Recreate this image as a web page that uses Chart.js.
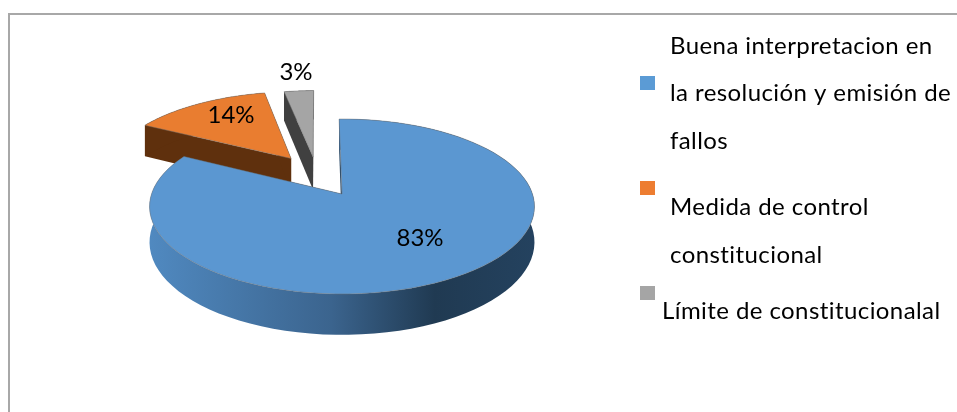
<!DOCTYPE html>
<html>
<head>
<meta charset="utf-8">
<title>Pie</title>
<script src="https://cdn.jsdelivr.net/npm/chart.js@4"></script>
<style>
    html, body { margin: 0; padding: 0; background: #fff; overflow: hidden; }
    #wrap { position: relative; width: 957px; height: 412px; }
    /* the chart frame is cut off by the page on the right and at the bottom */
    #frame { position: absolute; left: 8px; top: 13px; width: 980px; height: 440px; border: 2px solid #a8a8a8; }
    canvas { position: absolute; left: 0; top: 0; }
</style>
</head>
<body>
<div id="wrap">
    <div id="frame"></div>
    <canvas id="myChart" width="957" height="412"></canvas>
</div>
<script>
// chart data
const categories = [
    ["Buena interpretacion en", "la resolución y emisión de", "fallos"],
    ["Medida de control", "constitucional"],
    ["Límite de constitucionalal"]
];
const values = [83, 14, 3];
const percentLabels = ["83%", "14%", "3%"];

// colours, top face / side face
const topColors = ["#5b97d1", "#e97d30", "#a5a5a5"];
const sideColors = ["#2a4a68", "#5f300d", "#404040"];
const legendColors = ["#5b9bd5", "#ed7d31", "#a5a5a5"];

// how the tilted pie is projected on the canvas
const view = { cx: 342, cy: 194, rx: 190.5, ry: 85.7, persp: 0.143, depth: 35 };
// pulled out slices, in pie radii
const explode = [[0, 0], [-0.284, -0.44], [-0.162, -0.46]];

// where the texts go
const percentPos = [[420, 238], [231, 115], [296, 72]];
const legendPos = [
    { box: 76, x: 670, lines: [46, 93, 141] },
    { box: 181, x: 670, lines: [207, 255] },
    { box: 286, x: 662, lines: [311] }
];
const FONT = "Lato, Carlito, 'Open Sans', sans-serif";

function project(u, v) {
    var w = 1 - view.persp * v;
    return { x: view.cx + view.rx * u / w, y: view.cy + view.ry * v / w, d: view.depth / w };
}

// the rim of a slice, from its start angle to its end angle
function rim(arc, i) {
    var pts = [];
    var off = explode[i];
    var steps = 90;
    for (var s = 0; s <= steps; s++) {
        var a = arc.startAngle + (arc.endAngle - arc.startAngle) * s / steps;
        pts.push(project(off[0] + Math.cos(a), off[1] + Math.sin(a)));
    }
    return pts;
}

function fillPoly(ctx, pts, fill) {
    ctx.beginPath();
    pts.forEach(function (p, k) {
        if (k == 0) ctx.moveTo(p[0], p[1]);
        else ctx.lineTo(p[0], p[1]);
    });
    ctx.closePath();
    ctx.fillStyle = fill;
    ctx.fill();
}

function drawSlice(ctx, arc, i) {
    var pts = rim(arc, i);
    var apex = project(explode[i][0], explode[i][1]);
    var first = pts[0];
    var last = pts[pts.length - 1];

    // the two flat cut faces
    [first, last].forEach(function (p) {
        fillPoly(ctx, [[apex.x, apex.y], [p.x, p.y], [p.x, p.y + p.d], [apex.x, apex.y + apex.d]], sideColors[i]);
    });

    // outer wall, only the big slice shows it
    var wall = pts.map(function (p) { return [p.x, p.y]; });
    pts.slice().reverse().forEach(function (p) { wall.push([p.x, p.y + p.d]); });
    var fill = sideColors[i];
    if (i == 0) {
        fill = ctx.createLinearGradient(150, 0, 535, 0);
        fill.addColorStop(0, "#5089c0");
        fill.addColorStop(0.47, "#3b648e");
        fill.addColorStop(0.74, "#203a52");
        fill.addColorStop(1, "#24425f");
    }
    fillPoly(ctx, wall, fill);

    // top face
    var top = [[apex.x, apex.y]].concat(pts.map(function (p) { return [p.x, p.y]; }));
    fillPoly(ctx, top, topColors[i]);
    ctx.strokeStyle = "rgba(110,110,110,0.45)";
    ctx.lineWidth = 1;
    ctx.stroke();
}

const pie3d = {
    id: "pie3d",
    // painted back to front, so the big slice comes last
    beforeDatasetDraw: function (chart, args) {
        var arcs = chart.getDatasetMeta(args.index).data;
        for (var i = arcs.length - 1; i >= 0; i--) {
            drawSlice(chart.ctx, arcs[i], i);
        }
        return false;
    },
    afterDraw: function (chart) {
        var ctx = chart.ctx;
        ctx.save();
        ctx.fillStyle = "#000";
        ctx.textBaseline = "middle";

        ctx.font = "24px " + FONT;
        ctx.textAlign = "center";
        percentLabels.forEach(function (t, i) {
            ctx.fillText(t, percentPos[i][0], percentPos[i][1]);
        });

        ctx.textAlign = "left";
        ctx.letterSpacing = "0.42px";
        chart.data.labels.forEach(function (lines, i) {
            var pos = legendPos[i];
            ctx.fillStyle = legendColors[i];
            ctx.fillRect(640, pos.box, 15, 14);
            ctx.fillStyle = "#000";
            lines.forEach(function (line, k) {
                ctx.fillText(line, pos.x, pos.lines[k]);
            });
        });
        ctx.restore();
    }
};

var myChart = new Chart(document.getElementById("myChart"), {
    type: "pie",
    data: {
        labels: categories,
        datasets: [{ data: values, backgroundColor: topColors, borderWidth: 0 }]
    },
    options: {
        responsive: false,
        animation: false,
        rotation: -1,
        plugins: { legend: { display: false }, tooltip: { enabled: false } }
    },
    plugins: [pie3d]
});
</script>
</body>
</html>
